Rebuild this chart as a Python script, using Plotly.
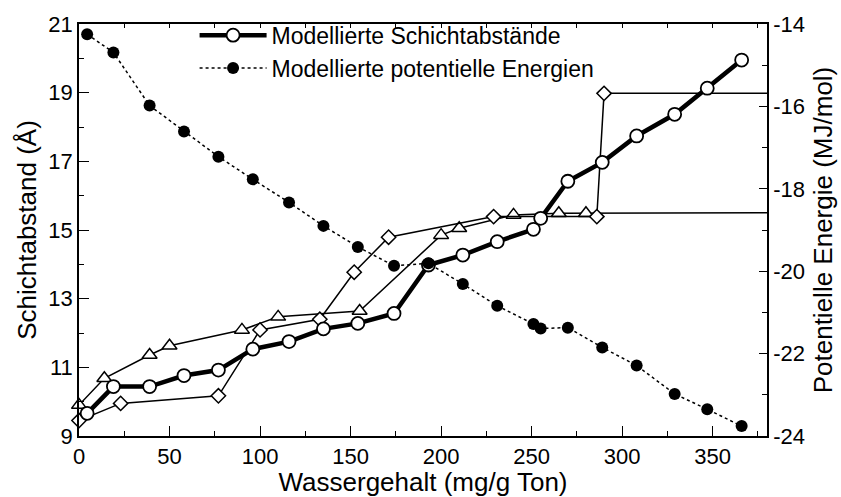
import plotly.graph_objects as go

# ---- data ----
circ_x = [4.5, 19, 39, 58, 77, 96, 116, 135, 154, 174, 193, 212, 231, 251, 255, 270, 289, 308, 329, 347, 366]
circ_y = [9.66, 10.44, 10.44, 10.76, 10.92, 11.53, 11.75, 12.12, 12.28, 12.57, 13.98, 14.27, 14.66, 15.02, 15.34,
          16.42, 16.97, 17.74, 18.37, 19.13, 19.95]
energy = [-14.25, -14.69, -15.98, -16.61, -17.22, -17.77, -18.33, -18.90, -19.41, -19.87, -19.81, -20.31, -20.84,
          -21.28, -21.39, -21.37, -21.85, -22.29, -22.98, -23.35, -23.76]
# last point of each of these two series is where the line leaves the plot (no marker)
tri_x = [0, 14, 39, 50, 90, 110, 155, 200, 210, 240, 265, 280, 380]
tri_y = [9.90, 10.68, 11.36, 11.63, 12.09, 12.47, 12.64, 14.85, 15.05, 15.44, 15.49, 15.49, 15.50]
dia_x = [0, 23, 77, 100, 133, 152, 171, 229, 286, 290, 380]
dia_y = [9.45, 9.95, 10.17, 12.09, 12.40, 13.77, 14.79, 15.39, 15.39, 18.98, 18.98]

x_ticks = [0, 50, 100, 150, 200, 250, 300, 350]
y1_ticks = [9, 11, 13, 15, 17, 19, 21]
y2_ticks = [-24, -22, -20, -18, -16, -14]
y2_labels = ["-24", "-22", "-20", "-18", "-16", "-14"]
y2_minor = [-23, -21, -19, -17, -15]

FONT = "Liberation Sans, Arial, sans-serif"
BLK = "#000000"

fig = go.Figure()

# thin lines (triangles / diamonds)
for xs, ys, sym, sz in [(tri_x, tri_y, "triangle-up", 13), (dia_x, dia_y, "diamond", 11)]:
    fig.add_trace(go.Scatter(
        x=xs, y=ys, mode="lines", showlegend=False, hoverinfo="skip",
        line=dict(color=BLK, width=1.5),
    ))
    fig.add_trace(go.Scatter(
        x=xs[:-1], y=ys[:-1], mode="markers", showlegend=False, cliponaxis=False,
        marker=dict(symbol=sym, size=sz, color="white", opacity=1, line=dict(color=BLK, width=1.5)),
    ))

fig.add_trace(go.Scatter(
    x=circ_x, y=circ_y, mode="lines+markers", name="Modellierte Schichtabstände", cliponaxis=False,
    line=dict(color=BLK, width=4.5),
    marker=dict(symbol="circle", size=13, color="white", line=dict(color=BLK, width=1.8)),
))
fig.add_trace(go.Scatter(
    x=circ_x, y=energy, mode="lines+markers", name="Modellierte potentielle Energien", yaxis="y2",
    cliponaxis=False,
    line=dict(color=BLK, width=1.5, dash="dot"),
    marker=dict(symbol="circle", size=12, color=BLK),
))
# invisible helper trace so the top tick axis is drawn
fig.add_trace(go.Scatter(
    x=circ_x, y=circ_y, xaxis="x2", mode="markers", showlegend=False, hoverinfo="skip",
    marker=dict(opacity=0),
))

fig.update_layout(
    width=841, height=497,
    margin=dict(l=79, r=74, t=24, b=61),
    paper_bgcolor="white", plot_bgcolor="white",
    font=dict(family=FONT, size=22, color=BLK),
    legend=dict(x=0.168, y=1.025, xanchor="left", yanchor="top", bgcolor="rgba(0,0,0,0)",
                font=dict(size=23), itemwidth=67, tracegroupgap=0),
    xaxis=dict(
        range=[0, 380], tickvals=x_ticks, automargin=False,
        ticks="inside", ticklen=10, tickwidth=1.3, tickcolor=BLK,
        minor=dict(dtick=25, tick0=0, ticks="inside", ticklen=5, tickwidth=1.3, tickcolor=BLK),
        showline=True, linecolor=BLK, linewidth=1.5, mirror=True, showgrid=False, zeroline=False,
        title=dict(text="Wassergehalt (mg/g Ton)", font=dict(size=26), standoff=12),
        tickfont=dict(size=22),
    ),
    xaxis2=dict(
        range=[0, 380], overlaying="x", side="top", anchor="y", automargin=False,
        dtick=25, tick0=0, ticks="inside", ticklen=4, tickwidth=1.3, tickcolor=BLK,
        showticklabels=False, showline=False, showgrid=False, zeroline=False,
    ),
    yaxis=dict(
        range=[9, 21], tickvals=y1_ticks, automargin=False,
        ticks="inside", ticklen=10, tickwidth=1.3, tickcolor=BLK,
        minor=dict(dtick=1, tick0=9, ticks="inside", ticklen=5, tickwidth=1.3, tickcolor=BLK),
        showline=True, linecolor=BLK, linewidth=1.5, showgrid=False, zeroline=False,
        title=dict(text="Schichtabstand (Å)", font=dict(size=26), standoff=4),
        tickfont=dict(size=22),
    ),
    yaxis2=dict(
        range=[-24, -14], overlaying="y", side="right", automargin=False,
        tickmode="array", tickvals=y2_ticks, ticktext=y2_labels,
        ticks="inside", ticklen=8, tickwidth=1.3, tickcolor=BLK,
        minor=dict(tickmode="array", tickvals=y2_minor, ticks="inside", ticklen=5, tickwidth=1.3,
                   tickcolor=BLK),
        showline=True, linecolor=BLK, linewidth=1.5, showgrid=False, zeroline=False,
        title=dict(text="Potentielle Energie (MJ/mol)", font=dict(size=26), standoff=10),
        tickfont=dict(size=22),
    ),
)

fig.write_html("out.html")
